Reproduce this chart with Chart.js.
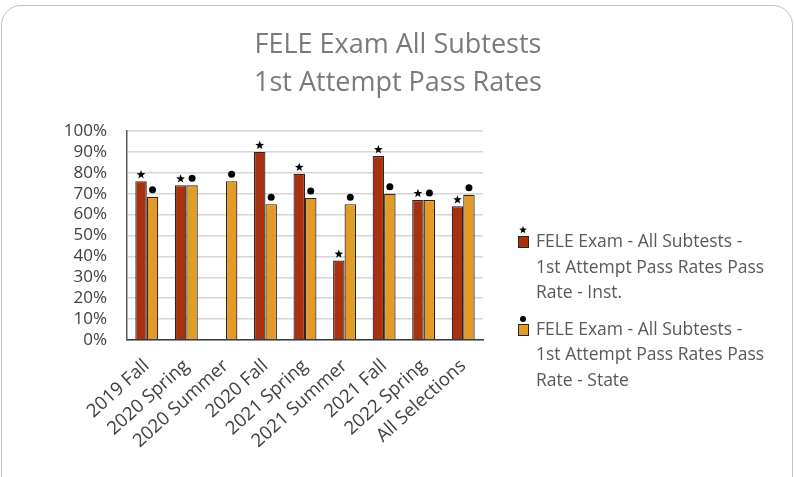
<!DOCTYPE html>
<html>
<head>
<meta charset="utf-8">
<script src="https://cdn.jsdelivr.net/npm/chart.js@4"></script>
<style>
  html, body { margin:0; padding:0; background:#fff; overflow:hidden; }
  #wrap { position:relative; width:796px; height:477px; }
  #frame { position:absolute; left:1px; top:5px; width:792px; height:520px; border:1.5px solid #c3c3c3; border-radius:20px; box-sizing:border-box; }
  canvas { position:absolute; left:0; top:0; }
  #title { position:absolute; left:0; top:24px; width:796px; text-align:center; font-family:"Open Sans", sans-serif; font-size:27px; line-height:38px; color:#7a7a7a; }
  #legend { position:absolute; left:514px; top:228px; font-family:"Open Sans", sans-serif; font-size:17.5px; color:#595959; }
  .item { position:relative; padding-left:22px; line-height:25.5px; margin-bottom:11px; white-space:nowrap; }
  .icon { position:absolute; left:4px; top:8px; width:9px; height:10px; border:1px solid #262626; }
  .mk { position:absolute; left:3px; top:-4px; width:12px; height:12px; }
</style>
</head>
<body>
<div id="wrap">
  <div id="frame"></div>
  <canvas id="c" width="796" height="477"></canvas>
  <div id="title"></div>
  <div id="legend"></div>
</div>
<script>
const titleLines = ["FELE Exam All Subtests", "1st Attempt Pass Rates"];
const categories = ["2019 Fall", "2020 Spring", "2020 Summer", "2020 Fall", "2021 Spring", "2021 Summer", "2021 Fall", "2022 Spring", "All Selections"];
const instRates  = [0.76, 0.74, null, 0.90, 0.795, 0.38, 0.88, 0.67, 0.64];
const stateRates = [0.685, 0.74, 0.76, 0.65, 0.68, 0.65, 0.70, 0.67, 0.695];
const seriesNames = [
  ["FELE Exam - All Subtests  -", "1st Attempt Pass Rates Pass", "Rate - Inst."],
  ["FELE Exam - All Subtests  -", "1st Attempt Pass Rates Pass", "Rate - State"]
];
const seriesColors = ["#A8310F", "#E39B27"];
const yTicks = [0, 0.1, 0.2, 0.3, 0.4, 0.5, 0.6, 0.7, 0.8, 0.9, 1.0];

function drawStar(ctx, cx, cy, R, r) {
  ctx.beginPath();
  for (let i = 0; i < 10; i++) {
    const rad = i % 2 === 0 ? R : r;
    const a = -Math.PI / 2 + i * Math.PI / 5;
    const px = cx + rad * Math.cos(a), py = cy + rad * Math.sin(a);
    if (i === 0) ctx.moveTo(px, py); else ctx.lineTo(px, py);
  }
  ctx.closePath();
  ctx.fill();
}

const markerPlugin = {
  id: 'markers',
  afterDatasetsDraw(chart) {
    const ctx = chart.ctx;
    ctx.save();
    ctx.fillStyle = '#000';
    chart.data.datasets.forEach((ds, di) => {
      const meta = chart.getDatasetMeta(di);
      meta.data.forEach((el, i) => {
        if (ds.data[i] === null || ds.data[i] === undefined) return;
        if (di === 0) {
          drawStar(ctx, el.x, el.y - 6.5, 4.6, 1.9);
        } else {
          ctx.beginPath();
          ctx.arc(el.x, el.y - 7, 3.5, 0, Math.PI * 2);
          ctx.fill();
        }
      });
    });
    ctx.restore();
  }
};

const FONT = '"Open Sans", sans-serif';

new Chart(document.getElementById('c'), {
  type: 'bar',
  data: {
    labels: categories,
    datasets: [
      { label: seriesNames[0].join(' '), data: instRates, backgroundColor: seriesColors[0], borderColor: '#262626', borderWidth: 1.2 },
      { label: seriesNames[1].join(' '), data: stateRates, backgroundColor: seriesColors[1], borderColor: '#262626', borderWidth: 1.2 }
    ]
  },
  options: {
    responsive: false,
    animation: false,
    events: [],
    layout: { padding: { left: 0, right: 313, top: 131, bottom: 0 } },
    datasets: { bar: { categoryPercentage: 0.58, barPercentage: 1.0 } },
    plugins: {
      legend: { display: false },
      tooltip: { enabled: false },
      title: { display: false }
    },
    scales: {
      x: {
        grid: { display: false, drawTicks: false },
        border: { display: true, color: '#3a3a3a', width: 1.5 },
        ticks: { color: '#404040', font: { family: FONT, size: 18.5 }, maxRotation: 42, minRotation: 42, autoSkip: false, padding: 15 },
        afterFit(s) { s.height = 137; }
      },
      y: {
        min: 0, max: 1,
        afterBuildTicks(s) { s.ticks = yTicks.map(v => ({ value: v })); },
        grid: { color: '#d6d6d6', lineWidth: 1.5, drawTicks: false },
        border: { display: true, color: '#595959', width: 1.5 },
        ticks: { color: '#404040', font: { family: FONT, size: 17 }, padding: 20, autoSkip: false, callback: v => Math.round(v * 100) + '%' },
        afterFit(s) { s.width = 127; }
      }
    }
  },
  plugins: [markerPlugin]
});

// HTML title
const title = document.getElementById('title');
titleLines.forEach(t => { const d = document.createElement('div'); d.textContent = t; title.appendChild(d); });

// HTML legend
const legend = document.getElementById('legend');
seriesNames.forEach((lines, i) => {
  const item = document.createElement('div');
  item.className = 'item';
  const icon = document.createElement('div');
  icon.className = 'icon';
  icon.style.background = seriesColors[i];
  item.appendChild(icon);
  const mk = document.createElement('canvas');
  mk.className = 'mk'; mk.width = 12; mk.height = 12;
  const m = mk.getContext('2d');
  m.fillStyle = '#000';
  if (i === 0) drawStar(m, 6, 6, 4, 1.7); else { m.beginPath(); m.arc(6, 7, 3, 0, Math.PI * 2); m.fill(); }
  item.appendChild(mk);
  lines.forEach(t => { const d = document.createElement('div'); d.textContent = t; item.appendChild(d); });
  legend.appendChild(item);
});
</script>
</body>
</html>
